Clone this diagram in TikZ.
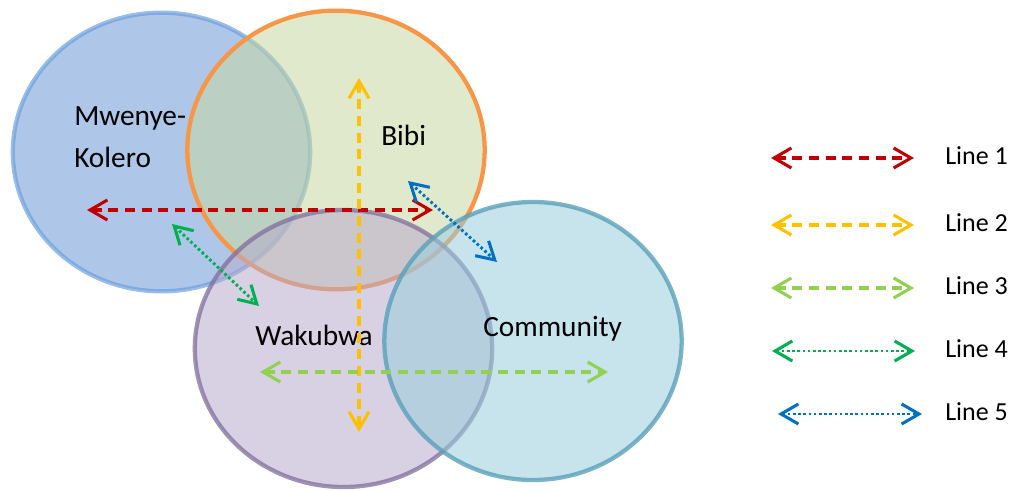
\documentclass[tikz,border=0pt]{standalone}
\usepackage{fontspec}
\setmainfont{Carlito}
\usepackage{tikz}
\usetikzlibrary{arrows.meta,shapes.geometric}
\definecolor{mkfill}{RGB}{108,153,215}
\definecolor{mkedge}{RGB}{110,160,222}
\definecolor{bibifill}{RGB}{199,215,162}
\definecolor{bibiedge}{RGB}{247,150,70}
\definecolor{wkfill}{RGB}{184,171,204}
\definecolor{wkedge}{RGB}{128,110,155}
\definecolor{cmfill}{RGB}{153,206,220}
\definecolor{cmedge}{RGB}{90,160,185}
\definecolor{redline}{RGB}{192,0,0}
\definecolor{goldline}{RGB}{255,192,0}
\definecolor{limeline}{RGB}{146,208,80}
\definecolor{greenline}{RGB}{0,176,80}
\definecolor{blueline}{RGB}{0,112,192}
\tikzset{
venn/.style={ellipse, draw, line width=3.2pt, inner sep=0pt, fill opacity=0.55, minimum width=223pt, minimum height=209pt},
lab/.style={font=\fontsize{22}{31.5}\selectfont, anchor=base west, align=left, inner sep=0pt},
legtext/.style={font=\fontsize{19.5}{23}\selectfont, anchor=base west, inner sep=0pt},
arr/.style={{Straight Barb[length=13pt, width=15pt, line width=2.3pt]}-{Straight Barb[length=13pt, width=15pt, line width=2.3pt]}, line width=2.35pt},
dashline/.style={arr, dash pattern=on 7.5pt off 5pt},
dotline/.style={arr, line width=2.2pt, dash pattern=on 2pt off 1.9pt},
lineA/.style={dashline, draw=redline},
lineB/.style={dashline, draw=goldline},
lineC/.style={dashline, draw=limeline},
lineD/.style={dotline, draw=greenline},
lineE/.style={dotline, draw=blueline}
}
\begin{document}
\begin{tikzpicture}[x=0.75pt, y=-0.75pt]
\useasboundingbox (0,0) rectangle (1016,489);
% the four groups
\node[venn, fill=mkfill, draw=mkedge, draw opacity=0.7] (mk) at (161.5,152) {};
\node[venn, fill=bibifill, draw=bibiedge] (bibi) at (336,150) {};
\node[venn, fill=wkfill, draw=wkedge, draw opacity=0.75, minimum height=207.75pt] (wk) at (343.5,348.5) {};
\node[venn, fill=cmfill, draw=cmedge, draw opacity=0.8, minimum height=208.5pt] (cm) at (533,341) {};
\node[lab] (mktext) at (74,167) {Mwenye-\\Kolero};
\node[lab] (bibitext) at (381,145) {Bibi};
\node[lab] (wktext) at (255,345) {Wakubwa};
\node[lab] (cmtext) at (483,336) {Community};
% links
\coordinate (a1) at (87,210);  \coordinate (a2) at (433,210);
\coordinate (b1) at (359,78);  \coordinate (b2) at (359,432);
\coordinate (c1) at (260,372); \coordinate (c2) at (608,372);
\coordinate (d1) at (172,224); \coordinate (d2) at (259,306);
\coordinate (e1) at (408,181); \coordinate (e2) at (497,262);
\draw[lineA] (a1) -- (a2);
\draw[lineB] (b1) -- (b2);
\draw[lineC] (c1) -- (c2);
\draw[lineD] (d1) -- (d2);
\draw[lineE] (e1) -- (e2);
% legend
\foreach \n/\y/\xa/\xb/\sty in {1/158/771/914/lineA, 2/225/771/914/lineB, 3/288/771/914/lineC, 4/351/772/915/lineD, 5/414/778/922/lineE}{
\coordinate (k\n a) at (\xa,\y);
\coordinate (k\n b) at (\xb,\y);
\draw[\sty] (k\n a) -- (k\n b);
\node[legtext] (leg\n) at (945,\y+6.5) {Line \n};
}
\end{tikzpicture}
\end{document}
